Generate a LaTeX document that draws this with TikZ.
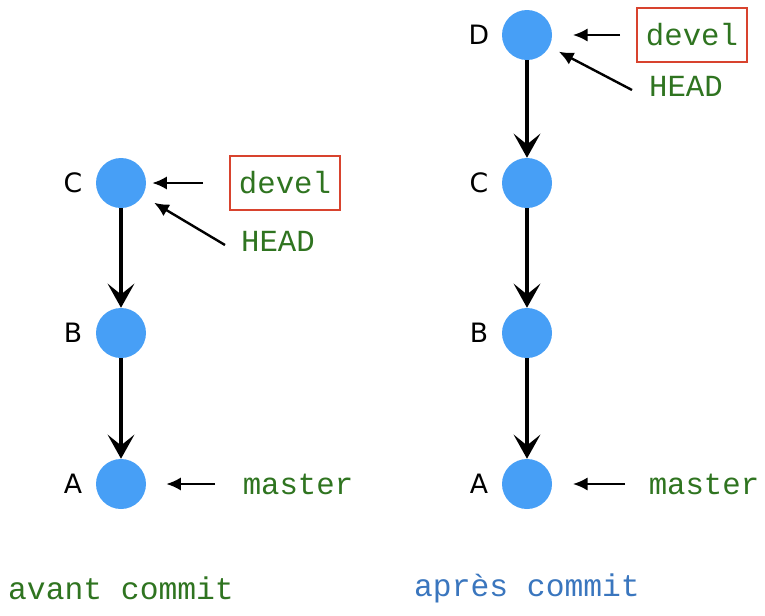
\documentclass[tikz,border=0pt]{standalone}
\usepackage{fontspec}
\setmainfont{DejaVu Sans}
\newfontfamily\codefont{Liberation Mono}
\usetikzlibrary{arrows.meta,positioning}
\definecolor{commitblue}{HTML}{479FF6}
\definecolor{branchgreen}{HTML}{2F7420}
\definecolor{captionblue}{HTML}{3A76BE}
\definecolor{boxred}{HTML}{D8432E}
\tikzset{commit/.style={circle,fill=commitblue,minimum size=37.5pt,inner sep=0pt},
  letter/.style={font=\fontsize{20}{20}\selectfont},
  branch/.style={text=branchgreen,font=\codefont\fontsize{23}{23}\selectfont,inner sep=2pt},
  headbox/.style={branch,draw=boxred,line width=1.5pt,minimum height=41pt,minimum width=83pt},
  caption/.style={font=\codefont\fontsize{23.5}{23.5}\selectfont},
  parent/.style={-{Stealth[length=18pt,width=20pt,inset=8pt]},line width=2.6pt},
  ptr/.style={-{Latex[length=11pt,width=10pt]},line width=1.8pt}}

\begin{document}
\begin{tikzpicture}[x=0.75pt,y=-0.75pt]
\useasboundingbox (0,0) rectangle (765,615);
% avant commit
\foreach \n/\yy in {c/183,b/333,a/484}{
  \node[commit] (\n1) at (121,\yy) {};
  \node[letter] at (73,\yy) {\MakeUppercase{\n}};}
\draw[parent] (c1)--(b1);
\draw[parent] (b1)--(a1);
\node[headbox] (develL) at (285,183) {devel};
\node[branch] (headL) at (278,241) {HEAD};
\node[branch] (masterL) at (298,484) {master};
\coordinate (dtailL) at (203,183);
\coordinate (htailL) at (225,245);
\coordinate (mtailL) at (215,484);
\draw[ptr,shorten >=4.5pt] (dtailL)--(c1);
\draw[ptr,shorten >=10pt] (htailL)--(c1);
\draw[ptr,shorten >=15pt] (mtailL)--(a1);
\node[caption,text=branchgreen] (avant) at (121,588) {avant commit};
% apres commit
\foreach \n/\yy in {d/35,c/183,b/333,a/484}{
  \node[commit] (\n2) at (527,\yy) {};
  \node[letter] at (479,\yy) {\MakeUppercase{\n}};}
\draw[parent] (d2)--(c2);
\draw[parent] (c2)--(b2);
\draw[parent] (b2)--(a2);
\node[headbox] (develR) at (692,35) {devel};
\node[branch] (headR) at (686,86) {HEAD};
\node[branch] (masterR) at (704,484) {master};
\coordinate (dtailR) at (620,35);
\coordinate (htailR) at (632,90);
\coordinate (mtailR) at (625,484);
\draw[ptr,shorten >=15.5pt] (dtailR)--(d2);
\draw[ptr,shorten >=8pt] (htailR)--(d2);
\draw[ptr,shorten >=15.5pt] (mtailR)--(a2);
\node[caption,text=captionblue] (apres) at (527,588) {après commit};
\end{tikzpicture}
\end{document}
